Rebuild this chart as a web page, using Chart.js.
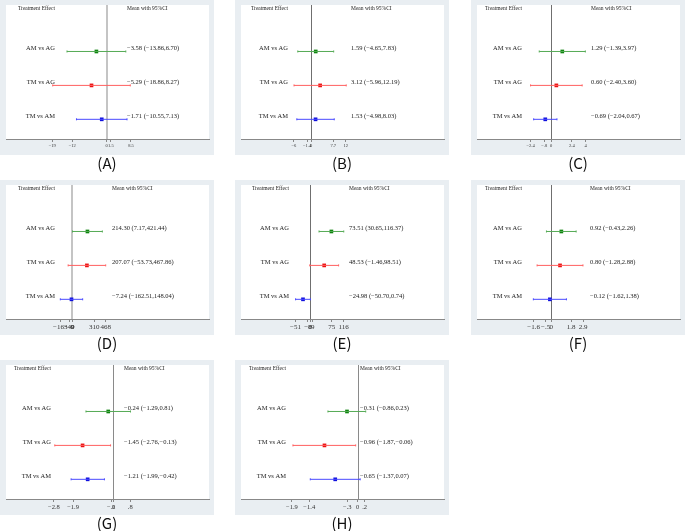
<!DOCTYPE html>
<html>
<head>
<meta charset="utf-8">
<script src="https://cdn.jsdelivr.net/npm/chart.js@4.4.1/dist/chart.umd.min.js"></script>
<style>
  body { margin: 0; width: 685px; height: 531px; background: #fff; position: relative; overflow: hidden; }
  .panel { position: absolute; width: 214px; height: 155px; background: #e9eef2; }
  .panel canvas { display: block; }
  .cap { position: absolute; width: 214px; text-align: center; font: 15px "Noto Sans CJK SC", sans-serif; line-height: 16px; color: #111; }
</style>
</head>
<body>
<script>
// row labels and panel captions
const comparisons = ['AM vs AG', 'TM vs AG', 'TM vs AM'];
const captions = ['(A)', '(B)', '(C)', '(D)', '(E)', '(F)', '(G)', '(H)'];

// mean, lower and upper 95% CI for each panel
const meanA = [-3.58, -5.29, -1.71], lowA = [-13.86, -18.86, -10.55], highA = [6.70, 8.27, 7.13];
const meanB = [1.59, 3.12, 1.53], lowB = [-4.65, -5.96, -4.98], highB = [7.83, 12.19, 8.03];
const meanC = [1.29, 0.60, -0.69], lowC = [-1.39, -2.40, -2.04], highC = [3.97, 3.60, 0.67];
const meanD = [214.30, 207.07, -7.24], lowD = [7.17, -53.73, -162.51], highD = [421.44, 467.86, 148.04];
const meanE = [73.51, 48.53, -24.98], lowE = [30.65, -1.46, -50.70], highE = [116.37, 98.51, 0.74];
const meanF = [0.92, 0.80, -0.12], lowF = [-0.43, -1.28, -1.62], highF = [2.26, 2.88, 1.38];
const meanG = [-0.24, -1.45, -1.21], lowG = [-1.29, -2.76, -1.99], highG = [0.81, -0.13, -0.42];
const meanH = [-0.31, -0.96, -0.65], lowH = [-0.86, -1.87, -1.37], highH = [0.23, -0.06, 0.07];

// x axis tick values
const ticksA = [-19, -12, 0, 1.5, 8.5];
const ticksB = [-6, -1.4, 0, 7.7, 12];
const ticksC = [-2.4, -0.8, 0, 2.4, 4];
const ticksD = [-163, -40, 0, 9, 310, 468];
const ticksE = [-51, -8, 0, 9, 75, 116];
const ticksF = [-1.6, -0.5, 0, 1.8, 2.9];
const ticksG = [-2.8, -1.9, -0.1, 0, 0.8];
const ticksH = [-1.9, -1.4, -0.3, 0, 0.2];

const lineColors = ['#55aa55', '#ff6060', '#4a4aff'];
const dotColors = ['#0e840e', '#ea1010', '#1010dd'];

// panel layout: position, x range, text columns (px from plot left), styles
const panels = [
  { m: meanA, l: lowA, h: highA, t: ticksA, left: 0,   top: 0,     xmin: -35.2, xmax: 35.8, lab: 49, est: 121, ref: ['#c4c4c4', 2], tf: 4.5 },
  { m: meanB, l: lowB, h: highB, t: ticksB, left: 235, top: 0,     xmin: -24.4, xmax: 46.2, lab: 47, est: 110, ref: ['#6f6f6f', 1], tf: 4.5 },
  { m: meanC, l: lowC, h: highC, t: ticksC, left: 471, top: 0,     xmin: -8.63, xmax: 14.98, lab: 45, est: 114, ref: ['#6f6f6f', 1], tf: 4.5 },
  { m: meanD, l: lowD, h: highD, t: ticksD, left: 0,   top: 179.5, xmin: -917, xmax: 1903, lab: 49, est: 106, ref: ['#c4c4c4', 2], tf: 7 },
  { m: meanE, l: lowE, h: highE, t: ticksE, left: 235, top: 179.5, xmin: -240, xmax: 464, lab: 48, est: 108, ref: ['#6f6f6f', 1], tf: 7 },
  { m: meanF, l: lowF, h: highF, t: ticksF, left: 471, top: 179.5, xmin: -6.73, xmax: 11.68, lab: 45, est: 113, ref: ['#6f6f6f', 1], tf: 7 },
  { m: meanG, l: lowG, h: highG, t: ticksG, left: 0,   top: 360,   xmin: -5.06, xmax: 4.51, lab: 45, est: 118, ref: ['#8a8a8a', 1], tf: 6.5 },
  { m: meanH, l: lowH, h: highH, t: ticksH, left: 235, top: 360,   xmin: -3.37, xmax: 2.49, lab: 45, est: 119, ref: ['#8a8a8a', 1], tf: 6.5 }
];

const minus = v => (v < 0 ? '\u2212' : '');
const fmt2 = v => minus(v) + Math.abs(v).toFixed(2);
const fmtTick = v => minus(v) + String(Math.abs(v)).replace(/^0\./, '.');

const forestText = {
  id: 'forestText',
  beforeDraw(chart, args, opts) {
    const { ctx, chartArea: a, scales } = chart;
    ctx.save();
    ctx.fillStyle = '#fff';
    ctx.fillRect(a.left, a.top, a.right - a.left, a.bottom - a.top);
    // reference line at zero
    const x0 = Math.round(scales.x.getPixelForValue(0)) + (opts.ref[1] === 1 ? 0.5 : 0);
    ctx.strokeStyle = opts.ref[0];
    ctx.lineWidth = opts.ref[1];
    ctx.beginPath();
    ctx.moveTo(x0, a.top);
    ctx.lineTo(x0, a.bottom);
    ctx.stroke();
    ctx.restore();
  },
  afterDraw(chart, args, opts) {
    const { ctx, chartArea: a, scales } = chart;
    const p = opts.p;
    ctx.save();
    ctx.fillStyle = '#222';
    ctx.textBaseline = 'middle';
    ctx.font = '5.5px "Liberation Serif"';
    ctx.textAlign = 'right';
    ctx.fillText('Treatment Effect', a.left + p.lab, a.top + 4);
    ctx.textAlign = 'left';
    ctx.fillText('Mean with 95%CI', a.left + p.est, a.top + 4);
    ctx.font = '6.5px "Liberation Serif"';
    comparisons.forEach((c, i) => {
      const y = scales.y.getPixelForValue(3 - i) - 3;
      ctx.textAlign = 'right';
      ctx.fillText(c, a.left + p.lab, y);
      ctx.textAlign = 'left';
      ctx.fillText(fmt2(p.m[i]) + ' (' + fmt2(p.l[i]) + ',' + fmt2(p.h[i]) + ')', a.left + p.est, y);
    });
    ctx.restore();
  }
};

panels.forEach((p, k) => {
  const div = document.createElement('div');
  div.className = 'panel';
  div.style.left = p.left + 'px';
  div.style.top = p.top + 'px';
  const cv = document.createElement('canvas');
  cv.width = 214; cv.height = 155;
  div.appendChild(cv);
  document.body.appendChild(div);

  const cap = document.createElement('div');
  cap.className = 'cap';
  cap.textContent = captions[k];
  cap.style.left = p.left + 'px';
  cap.style.top = (p.top + 155) + 'px';
  document.body.appendChild(cap);

  const datasets = [];
  comparisons.forEach((c, i) => {
    datasets.push({
      label: c + ' CI',
      data: [{ x: p.l[i], y: 3 - i }, { x: p.h[i], y: 3 - i }],
      showLine: true,
      borderColor: lineColors[i],
      borderWidth: 1,
      pointStyle: 'line',
      rotation: 90,
      pointRadius: 1,
      pointBorderColor: lineColors[i],
      pointBorderWidth: 1
    });
    datasets.push({
      label: c,
      data: [{ x: p.m[i], y: 3 - i }],
      pointStyle: 'rect',
      pointRadius: 2.6,
      backgroundColor: dotColors[i],
      borderWidth: 0
    });
  });

  new Chart(cv.getContext('2d'), {
    type: 'scatter',
    data: { datasets },
    options: {
      responsive: false,
      animation: false,
      events: [],
      layout: { padding: { left: 6, right: 5, top: 5, bottom: 0 } },
      plugins: {
        legend: { display: false },
        tooltip: { enabled: false },
        forestText: { p, ref: p.ref }
      },
      scales: {
        x: {
          type: 'linear',
          min: p.xmin,
          max: p.xmax,
          afterBuildTicks: axis => { axis.ticks = p.t.map(v => ({ value: v })); },
          afterFit: axis => { axis.height = 16; },
          grid: { drawOnChartArea: false, drawTicks: true, tickLength: 3, color: '#888' },
          border: { display: true, color: '#888', width: 1 },
          ticks: {
            autoSkip: false,
            maxRotation: 0,
            padding: 1,
            color: '#333',
            font: { family: 'Liberation Serif', size: p.tf },
            callback: v => fmtTick(v)
          }
        },
        y: { type: 'linear', min: 0.42, max: 4.37, display: false }
      }
    },
    plugins: [forestText]
  });
});
</script>
</body>
</html>
